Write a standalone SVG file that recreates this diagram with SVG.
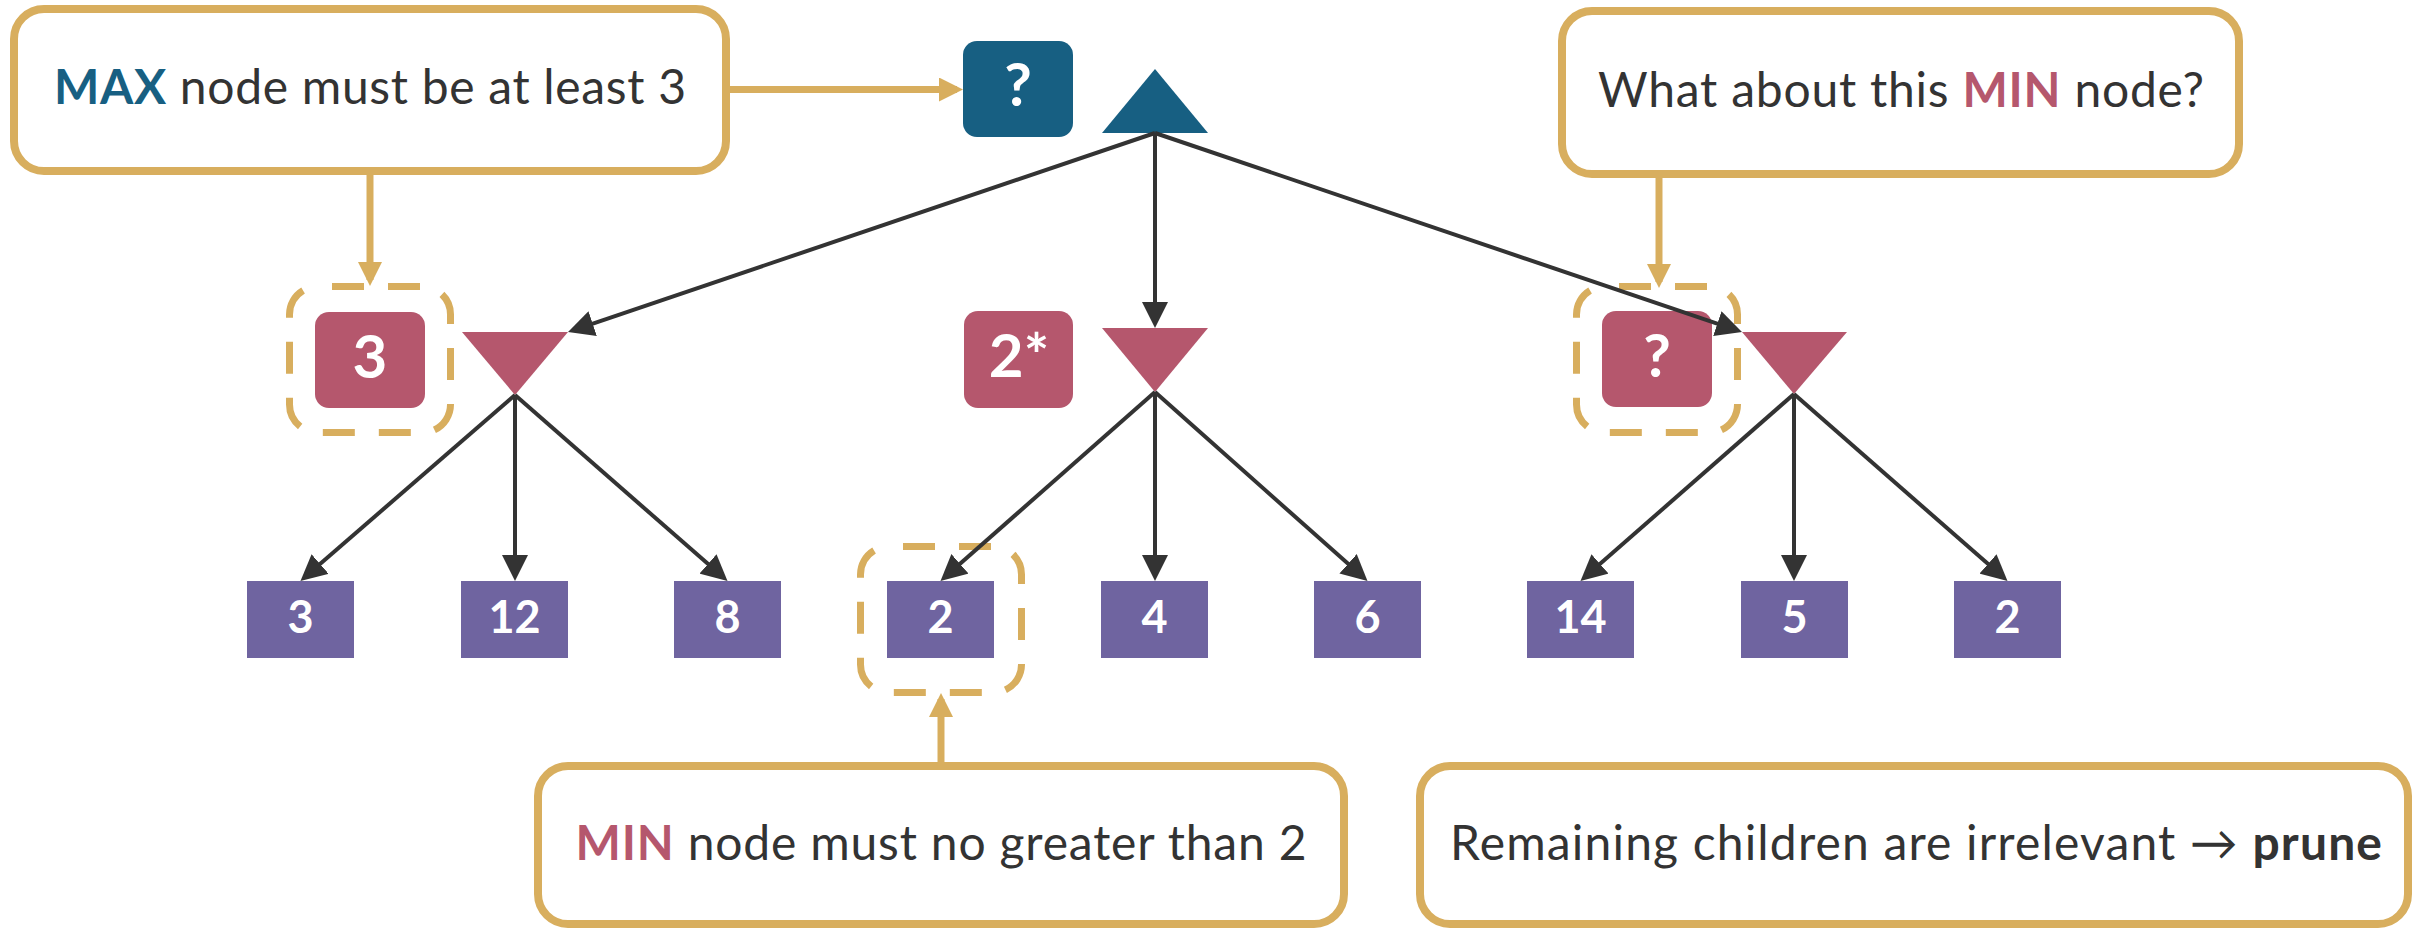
<svg xmlns="http://www.w3.org/2000/svg" width="2420" height="930" viewBox="0 0 2420 930">
  <defs>
    <style>
      .callout { fill: #ffffff; stroke: #D8AE5E; stroke-width: 8; }
      .callout-text { font-family: Lato, "Open Sans", "Liberation Sans", sans-serif; font-size: 48px; fill: #333333; text-anchor: middle; }
      .strong { font-weight: 700; }
      .max-c { fill: #175F82; }
      .min-c { fill: #B5576D; }
      .value { rx: 14; ry: 14; }
      .value-text { font-family: Lato, "Open Sans", "Liberation Sans", sans-serif; font-size: 60px; font-weight: 700; fill: #ffffff; text-anchor: middle; }
      .leaf { fill: #6F64A0; }
      .leaf-text { font-family: Lato, "Open Sans", "Liberation Sans", sans-serif; font-size: 45px; font-weight: 700; fill: #ffffff; text-anchor: middle; }
      .focus { fill: none; stroke: #D8AE5E; stroke-width: 7; stroke-dasharray: 32 24; stroke-dashoffset: 41.5; }
      .edge { fill: none; stroke: #333333; stroke-width: 4; marker-end: url(#head-dark); }
      .pointer { fill: none; stroke: #D8AE5E; stroke-width: 7; marker-end: url(#head-gold); }
    </style>
    <marker id="head-dark" viewBox="0 0 26 26" refX="20" refY="13" markerWidth="26" markerHeight="26" markerUnits="userSpaceOnUse" orient="auto">
      <path d="M0,0 L26,13 L0,26 Z" fill="#333333"/>
    </marker>
    <marker id="head-gold" viewBox="0 0 24 24" refX="18" refY="12" markerWidth="24" markerHeight="24" markerUnits="userSpaceOnUse" orient="auto">
      <path d="M0,0 L24,12 L0,24 Z" fill="#D8AE5E"/>
    </marker>
  </defs>

  <rect width="2420" height="930" fill="#ffffff"/>

  <!-- tree nodes -->
  <g id="root-max">
    <polygon class="max-c" points="1155,69 1102,133 1208,133"/>
  </g>
  <g id="root-value">
    <rect class="max-c value" x="963" y="41" width="110" height="96"/>
    <text class="value-text" x="1018" y="106">?</text>
  </g>

  <g id="min-left">
    <polygon class="min-c" points="462,332 568,332 515,395"/>
  </g>
  <g id="min-left-value">
    <rect class="focus" x="289.5" y="286.5" width="161" height="146" rx="28"/>
    <rect class="min-c value" x="315" y="312" width="110" height="96"/>
    <text class="value-text" x="370" y="378">3</text>
  </g>

  <g id="min-mid">
    <polygon class="min-c" points="1102,328 1208,328 1155,392"/>
  </g>
  <g id="min-mid-value">
    <rect class="min-c value" x="964" y="311" width="109" height="97"/>
    <text class="value-text" x="1019" y="377">2*</text>
  </g>

  <g id="min-right">
    <polygon class="min-c" points="1742,332 1847,332 1794,394"/>
  </g>
  <g id="min-right-value">
    <rect class="focus" x="1576.5" y="286.5" width="161" height="146" rx="28"/>
    <rect class="min-c value" x="1602" y="311" width="110" height="96"/>
    <text class="value-text" x="1657" y="377">?</text>
  </g>

  <!-- terminal values -->
  <g id="leaf-1"><rect class="leaf" x="247" y="581" width="107" height="77"/><text class="leaf-text" x="300.5" y="633">3</text></g>
  <g id="leaf-2"><rect class="leaf" x="461" y="581" width="107" height="77"/><text class="leaf-text" x="514.5" y="633">12</text></g>
  <g id="leaf-3"><rect class="leaf" x="674" y="581" width="107" height="77"/><text class="leaf-text" x="727.5" y="633">8</text></g>
  <g id="leaf-4">
    <rect class="focus" x="860.5" y="546.5" width="161" height="146" rx="28"/>
    <rect class="leaf" x="887" y="581" width="107" height="77"/><text class="leaf-text" x="940.5" y="633">2</text>
  </g>
  <g id="leaf-5"><rect class="leaf" x="1101" y="581" width="107" height="77"/><text class="leaf-text" x="1154.5" y="633">4</text></g>
  <g id="leaf-6"><rect class="leaf" x="1314" y="581" width="107" height="77"/><text class="leaf-text" x="1367.5" y="633">6</text></g>
  <g id="leaf-7"><rect class="leaf" x="1527" y="581" width="107" height="77"/><text class="leaf-text" x="1580.5" y="633">14</text></g>
  <g id="leaf-8"><rect class="leaf" x="1741" y="581" width="107" height="77"/><text class="leaf-text" x="1794.5" y="633">5</text></g>
  <g id="leaf-9"><rect class="leaf" x="1954" y="581" width="107" height="77"/><text class="leaf-text" x="2007.5" y="633">2</text></g>

  <!-- callouts -->
  <g id="note-max">
    <rect class="callout" x="14" y="9" width="712" height="162" rx="30"/>
    <text class="callout-text" x="370" y="104" textLength="632" lengthAdjust="spacing"><tspan class="strong" fill="#175F82">MAX</tspan> node must be at least 3</text>
  </g>
  <g id="note-question">
    <rect class="callout" x="1562" y="11" width="677" height="163" rx="30"/>
    <text class="callout-text" x="1901" y="107" textLength="606" lengthAdjust="spacing">What about this <tspan class="strong" fill="#B5576D">MIN</tspan> node?</text>
  </g>
  <g id="note-min">
    <rect class="callout" x="538" y="766" width="806" height="158" rx="30"/>
    <text class="callout-text" x="941" y="860" textLength="731" lengthAdjust="spacing"><tspan class="strong" fill="#B5576D">MIN</tspan> node must no greater than 2</text>
  </g>
  <g id="note-prune">
    <rect class="callout" x="1420" y="766" width="988" height="158" rx="30"/>
    <text class="callout-text" x="1916" y="860" textLength="932" lengthAdjust="spacing">Remaining children are irrelevant → <tspan class="strong">prune</tspan></text>
  </g>

  <!-- connectors -->
  <g id="connectors">
    <line class="edge" x1="1155" y1="133" x2="573.7" y2="330.1"/>
    <line class="edge" x1="1155" y1="133" x2="1155" y2="322"/>
    <line class="edge" x1="1155" y1="133" x2="1736.3" y2="330.1"/>

    <line class="edge" x1="515" y1="395" x2="305" y2="577.1"/>
    <line class="edge" x1="515" y1="395" x2="515" y2="575"/>
    <line class="edge" x1="515" y1="395" x2="723" y2="577.1"/>

    <line class="edge" x1="1155" y1="392" x2="945" y2="577.1"/>
    <line class="edge" x1="1155" y1="392" x2="1155" y2="575"/>
    <line class="edge" x1="1155" y1="392" x2="1363" y2="577.1"/>

    <line class="edge" x1="1794" y1="394" x2="1585" y2="577.1"/>
    <line class="edge" x1="1794" y1="394" x2="1794" y2="575"/>
    <line class="edge" x1="1794" y1="394" x2="2003" y2="577.1"/>

    <line class="pointer" x1="730" y1="89.5" x2="957" y2="89.5"/>
    <line class="pointer" x1="370" y1="175" x2="370" y2="280"/>
    <line class="pointer" x1="1659" y1="178" x2="1659" y2="282"/>
    <line class="pointer" x1="941" y1="762" x2="941" y2="699"/>
  </g>
</svg>
